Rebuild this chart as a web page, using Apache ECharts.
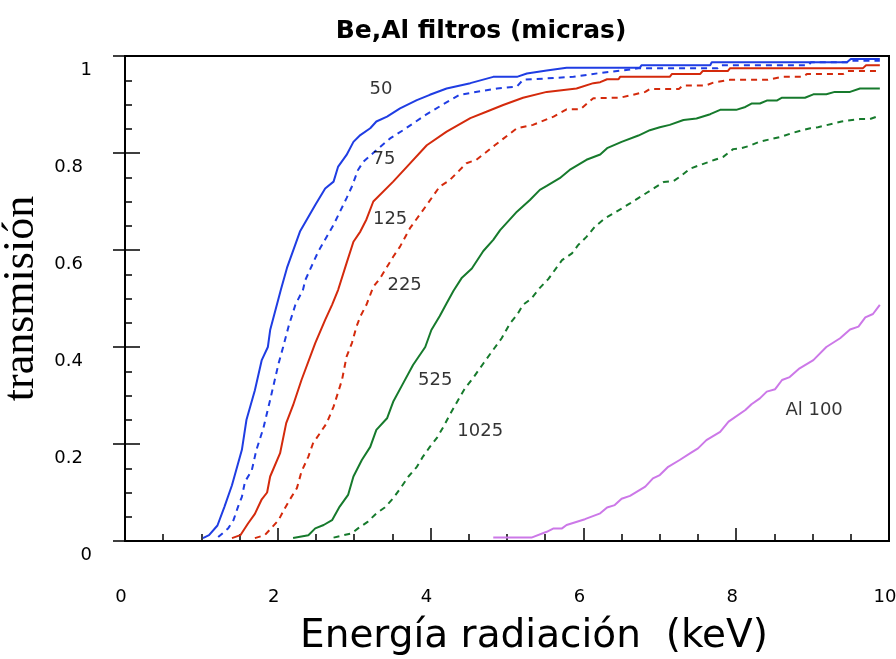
<!DOCTYPE html>
<html>
<head>
<meta charset="utf-8">
<title>Be,Al filtros (micras)</title>
<script src="https://cdn.jsdelivr.net/npm/echarts@6/dist/echarts.min.js"></script>
<style>
  html, body { margin: 0; padding: 0; background: #fff; }
  #chart { width: 896px; height: 659px; }
</style>
</head>
<body>
<div id="chart"></div>
<script>
// Transmission of Be filters (thickness in microns) and one Al filter vs photon energy (keV)
const be50 = [[1.02,0.006],[1.10,0.012],[1.21,0.032],[1.30,0.07],[1.40,0.115],[1.53,0.188],[1.59,0.25],[1.70,0.311],[1.79,0.373],[1.87,0.40],[1.90,0.435],[2.04,0.518],[2.12,0.563],[2.29,0.638],[2.49,0.693],[2.62,0.727],[2.73,0.741],[2.79,0.772],[2.90,0.796],[2.99,0.823],[3.08,0.837],[3.21,0.851],[3.29,0.865],[3.43,0.875],[3.60,0.892],[3.82,0.909],[3.99,0.920],[4.21,0.933],[4.52,0.944],[4.82,0.957],[5.13,0.957],[5.26,0.964],[5.52,0.970],[5.78,0.976],[6.74,0.976],[6.76,0.981],[7.66,0.981],[7.68,0.987],[9.45,0.987],[9.50,0.994],[9.88,0.994]];
const be75 = [[1.22,0.008],[1.35,0.026],[1.42,0.043],[1.48,0.071],[1.53,0.091],[1.57,0.122],[1.66,0.146],[1.72,0.188],[1.81,0.232],[1.90,0.291],[1.96,0.332],[2.01,0.366],[2.07,0.40],[2.14,0.442],[2.23,0.487],[2.33,0.518],[2.36,0.538],[2.53,0.597],[2.73,0.652],[2.90,0.707],[2.97,0.731],[3.05,0.765],[3.12,0.782],[3.27,0.803],[3.47,0.830],[3.64,0.847],[3.93,0.878],[4.15,0.899],[4.38,0.920],[4.87,0.933],[5.13,0.937],[5.21,0.951],[5.87,0.957],[6.22,0.965],[6.50,0.970],[6.74,0.975],[7.76,0.975],[7.80,0.981],[8.94,0.981],[8.98,0.987],[9.45,0.987],[9.50,0.990],[9.88,0.990]];
const be125 = [[1.40,0.006],[1.51,0.012],[1.61,0.036],[1.70,0.056],[1.79,0.086],[1.86,0.10],[1.90,0.133],[2.03,0.181],[2.11,0.243],[2.20,0.28],[2.31,0.332],[2.49,0.408],[2.62,0.456],[2.71,0.487],[2.79,0.518],[2.90,0.573],[2.99,0.617],[3.08,0.638],[3.16,0.663],[3.25,0.70],[3.51,0.741],[3.71,0.775],[3.95,0.816],[4.21,0.844],[4.52,0.872],[4.73,0.885],[4.95,0.899],[5.21,0.914],[5.52,0.926],[5.91,0.933],[6.13,0.944],[6.22,0.946],[6.31,0.952],[6.46,0.952],[6.48,0.957],[7.13,0.957],[7.16,0.963],[7.53,0.963],[7.56,0.969],[7.89,0.969],[7.92,0.975],[9.66,0.975],[9.70,0.981],[9.88,0.981]];
const be225 = [[1.70,0.006],[1.83,0.012],[2.01,0.043],[2.09,0.067],[2.16,0.086],[2.25,0.109],[2.31,0.143],[2.40,0.174],[2.46,0.201],[2.55,0.222],[2.64,0.243],[2.73,0.277],[2.84,0.332],[2.90,0.38],[2.97,0.408],[3.03,0.442],[3.08,0.463],[3.16,0.487],[3.25,0.524],[3.34,0.542],[3.51,0.586],[3.60,0.607],[3.73,0.645],[3.95,0.693],[4.12,0.731],[4.25,0.744],[4.47,0.779],[4.60,0.786],[4.84,0.816],[5.13,0.851],[5.34,0.858],[5.61,0.875],[5.78,0.89],[5.96,0.89],[6.13,0.913],[6.48,0.914],[6.81,0.926],[6.87,0.932],[7.25,0.932],[7.30,0.939],[7.60,0.939],[7.70,0.945],[7.92,0.951],[8.41,0.951],[8.60,0.957],[8.87,0.957],[8.93,0.963],[9.40,0.963],[9.45,0.969],[9.88,0.969]];
const be525 = [[2.20,0.006],[2.40,0.012],[2.49,0.026],[2.60,0.033],[2.71,0.043],[2.81,0.071],[2.92,0.095],[2.99,0.133],[3.10,0.167],[3.21,0.194],[3.29,0.229],[3.43,0.253],[3.51,0.287],[3.64,0.325],[3.77,0.363],[3.93,0.40],[4.01,0.435],[4.12,0.464],[4.21,0.49],[4.30,0.516],[4.41,0.543],[4.54,0.562],[4.69,0.598],[4.82,0.621],[4.91,0.641],[5.13,0.679],[5.30,0.703],[5.43,0.724],[5.52,0.732],[5.69,0.748],[5.82,0.765],[6.04,0.786],[6.22,0.797],[6.31,0.81],[6.50,0.823],[6.72,0.836],[6.87,0.847],[7.00,0.853],[7.13,0.858],[7.31,0.868],[7.48,0.871],[7.66,0.88],[7.79,0.889],[8.00,0.889],[8.12,0.895],[8.20,0.902],[8.31,0.902],[8.40,0.908],[8.53,0.908],[8.60,0.914],[8.90,0.914],[9.01,0.921],[9.18,0.921],[9.29,0.926],[9.49,0.926],[9.62,0.933],[9.88,0.933]];
const be1025 = [[2.73,0.007],[2.97,0.016],[3.05,0.026],[3.18,0.04],[3.29,0.057],[3.40,0.069],[3.51,0.088],[3.62,0.112],[3.71,0.133],[3.82,0.153],[3.90,0.174],[3.99,0.194],[4.08,0.212],[4.17,0.236],[4.25,0.26],[4.38,0.296],[4.45,0.315],[4.56,0.337],[4.69,0.366],[4.80,0.39],[4.93,0.418],[5.04,0.449],[5.13,0.466],[5.21,0.487],[5.32,0.50],[5.43,0.522],[5.54,0.54],[5.72,0.579],[5.85,0.593],[5.93,0.61],[6.04,0.627],[6.15,0.648],[6.28,0.665],[6.39,0.675],[6.61,0.696],[6.83,0.718],[6.94,0.729],[7.05,0.74],[7.18,0.742],[7.28,0.753],[7.40,0.768],[7.72,0.786],[7.83,0.792],[7.96,0.808],[8.07,0.81],[8.18,0.815],[8.30,0.823],[8.60,0.834],[8.73,0.841],[8.84,0.846],[8.97,0.851],[9.07,0.853],[9.38,0.865],[9.62,0.87],[9.75,0.87],[9.88,0.877]];
const al100 = [[4.82,0.007],[5.32,0.007],[5.52,0.019],[5.61,0.026],[5.72,0.026],[5.78,0.033],[6.02,0.045],[6.22,0.057],[6.31,0.069],[6.41,0.074],[6.50,0.087],[6.61,0.093],[6.81,0.112],[6.91,0.129],[7.00,0.136],[7.11,0.153],[7.26,0.167],[7.40,0.181],[7.50,0.191],[7.61,0.208],[7.79,0.225],[7.90,0.246],[8.12,0.27],[8.20,0.282],[8.31,0.294],[8.40,0.308],[8.51,0.313],[8.60,0.332],[8.70,0.338],[8.83,0.356],[9.01,0.373],[9.18,0.40],[9.36,0.418],[9.49,0.436],[9.60,0.442],[9.69,0.461],[9.79,0.468],[9.88,0.487]];

// Curve names written next to each curve
const curveNames = ['50', '75', '125', '225', '525', '1025', 'Al 100'];

const SANS = '"DejaVu Sans", "Noto Sans", sans-serif';
const BLUE = '#1f3de3', RED = '#d42a0c', GREEN = '#167a2c', VIOLET = '#cc78e8';

function curve(name, data, color, dashed) {
  return {
    name: name,
    type: 'line',
    data: data,
    showSymbol: false,
    symbol: 'none',
    silent: true,
    lineStyle: { color: color, width: 2, type: dashed ? [6, 5] : 'solid' },
    z: 3
  };
}

// Anchor of each curve name, in (keV, transmission)
const nameAnchors = [[3.35,0.932],[3.39,0.786],[3.47,0.664],[3.66,0.528],[4.06,0.331],[4.65,0.227],[9.02,0.270]];

const chart = echarts.init(document.getElementById('chart'), null, { renderer: 'canvas' });

const yLabelFmt = function (v) {
  if (v === 0) return '{w|0}';
  if (v === 1) return '{w|1}';
  return '{d|' + v.toFixed(1) + '}';
};

chart.setOption({
  animation: false,
  backgroundColor: '#fff',
  title: {
    text: 'Be,Al filtros (micras)',
    left: 476, top: 14, textAlign: 'center',
    textStyle: { fontFamily: SANS, fontWeight: 'bold', fontSize: 25, color: '#000' }
  },
  grid: {
    left: 125, right: 7, top: 56, bottom: 118,
    outerBoundsMode: 'none', containLabel: false,
    show: true, borderColor: '#000', borderWidth: 2, backgroundColor: 'transparent'
  },
  xAxis: {
    type: 'value', min: 0, max: 10, interval: 2,
    name: 'Energía radiación  (keV)',
    nameLocation: 'middle', nameGap: 76,
    nameTextStyle: { fontFamily: SANS, fontSize: 39, color: '#000', padding: [0, 0, 0, 54] },
    axisLine: { show: true, onZero: false, lineStyle: { color: '#000', width: 2 } },
    axisTick: { show: true, inside: true, length: 13, lineStyle: { color: '#000', width: 1.5 } },
    minorTick: { show: true, splitNumber: 4, length: 7, lineStyle: { color: '#000', width: 1.5 } },
    splitLine: { show: false },
    axisLabel: { margin: 47, fontFamily: SANS, fontSize: 18, color: '#000', padding: [0, 8, 0, 0] }
  },
  yAxis: [{
    type: 'value', min: 0, max: 1, interval: 0.2, position: 'left',
    name: 'transmisión',
    nameLocation: 'middle', nameGap: 73,
    nameTextStyle: { fontFamily: '"Liberation Serif", "DejaVu Serif", serif', fontSize: 44, color: '#000' },
    axisLine: { show: true, onZero: false, lineStyle: { color: '#000', width: 2 } },
    axisTick: { show: true, inside: true, length: 15, lineStyle: { color: '#000', width: 1.5 } },
    minorTick: { show: true, splitNumber: 4, length: 7, lineStyle: { color: '#000', width: 1.5 } },
    splitLine: { show: false },
    axisLabel: {
      margin: 33, formatter: yLabelFmt,
      rich: {
        d: { fontFamily: SANS, fontSize: 18, color: '#000', padding: [28, 9, 0, 0] },
        w: { fontFamily: SANS, fontSize: 18, color: '#000', padding: [28, 0, 0, 0] }
      }
    }
  }, {
    // outer half of the major ticks on the left axis
    type: 'value', min: 0, max: 1, interval: 0.2, position: 'left', offset: 0,
    axisLine: { show: true, onZero: false, lineStyle: { color: '#000', width: 2 } },
    axisTick: { show: true, inside: false, length: 12, lineStyle: { color: '#000', width: 1.5 } },
    axisLabel: { show: false },
    splitLine: { show: false }
  }],
  series: [
    curve('50', be50, BLUE, false),
    curve('75', be75, BLUE, true),
    curve('125', be125, RED, false),
    curve('225', be225, RED, true),
    curve('525', be525, GREEN, false),
    curve('1025', be1025, GREEN, true),
    curve('Al 100', al100, VIOLET, false),
    {
      name: 'nombres',
      type: 'scatter',
      silent: true,
      symbolSize: 1,
      itemStyle: { color: 'transparent' },
      data: curveNames.map(function (n, i) { return { name: n, value: nameAnchors[i] }; }),
      label: {
        show: true, position: 'inside', formatter: '{b}',
        fontFamily: SANS, fontSize: 18, color: '#000'
      },
      z: 5
    }
  ]
});
</script>
</body>
</html>
